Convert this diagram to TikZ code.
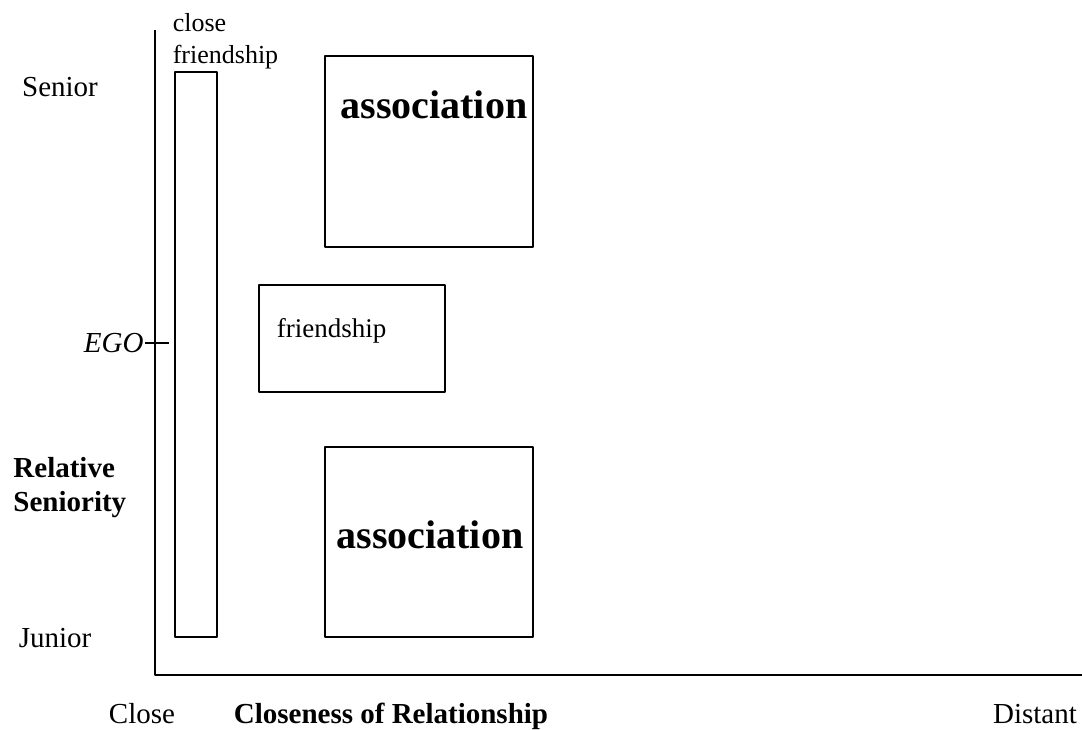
\documentclass[tikz,border=0pt]{standalone}
\usepackage{fontspec}
\setmainfont{Liberation Serif}
\usetikzlibrary{positioning}
\begin{document}
\begin{tikzpicture}[x=0.5pt,y=-0.5pt,font=\fontsize{14.5}{16}\selectfont, line join=round, line width=0.8pt]
	\tikzset{big/.style={font=\fontsize{20}{22}\selectfont\bfseries},
		small/.style={font=\fontsize{13.5}{16}\selectfont,inner sep=0pt}}
	\def\ax{155} \def\ay{675} % goc truc
	\useasboundingbox (0,0) rectangle (1082,729);
	
	% truc
	\coordinate (O) at (\ax,\ay);
	\coordinate (ytop) at (\ax,30);
	\coordinate (xend) at (1082,\ay);
	\draw (ytop)--(O)--(xend);
	\coordinate (ego) at (\ax,343);
	\draw ([xshift=-5]ego)--([xshift=7]ego);
	
	% cac hop
	\draw (175,72) rectangle (217,637);
	\draw (325,56) rectangle (533,247);
	\draw (259,285) rectangle (445,392);
	\draw (325,447) rectangle (533,637);
	
	% nhan
	\node[small,font=\fontsize{13}{16}\selectfont,align=left,anchor=south west] (cf) at (172,70) {close\\friendship};
	\node[big] (asA) at (434,105) {association};
	\node[small,anchor=base west] (fr) at (276,337) {friendship};
	\node[big] (asB) at (430,535) {association};
	\node (sen) at (60,87) {Senior};
	\node[anchor=east,font=\fontsize{14.5}{16}\selectfont\itshape] (egoL) at (151,343) {EGO};
	\node[anchor=west,align=left,font=\fontsize{14.5}{17}\selectfont\bfseries] (rs) at (6,488) {Relative\\Seniority};
	\node[anchor=base] (jun) at (55,647) {Junior};
	\node[anchor=base,inner sep=1pt] (cl) at (142,723) {Close};
	\node[anchor=base,inner sep=1pt,font=\fontsize{14.5}{16}\selectfont\bfseries] (cor) at (391,723) {Closeness of Relationship};
	\node[anchor=base,inner sep=1pt] (dis) at (1035,723) {Distant};
\end{tikzpicture}
\end{document}
